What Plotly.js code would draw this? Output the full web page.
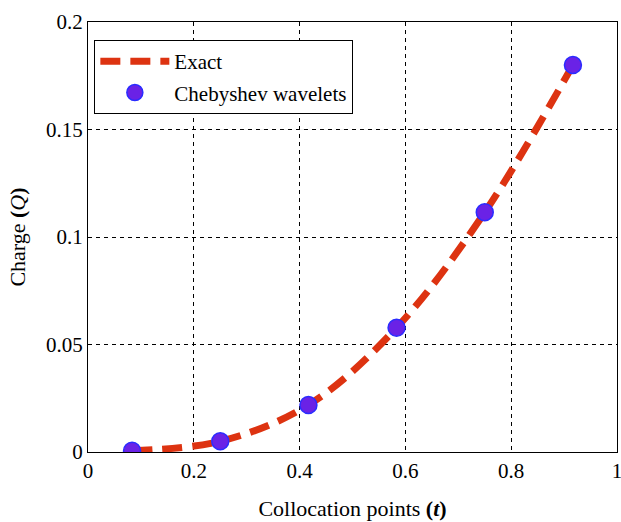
<!DOCTYPE html>
<html>
<head>
<meta charset="utf-8">
<script src="https://cdn.plot.ly/plotly-3.0.1.min.js"></script>
<style>html,body{margin:0;padding:0;background:#fff;}#chart{width:621px;height:522px;}</style>
</head>
<body>
<div id="chart"></div>
<script>
// Collocation points (t) and charge values Q
const tPoints = [0.0833, 0.25, 0.4167, 0.5833, 0.75, 0.9167];
const exactQ = [0.0006, 0.0050, 0.0219, 0.0578, 0.1115, 0.1800];
const waveletQ = [0.0006, 0.0050, 0.0219, 0.0578, 0.1115, 0.1800];
const xTicks = [0, 0.2, 0.4, 0.6, 0.8, 1];
const yTicks = [0, 0.05, 0.1, 0.15, 0.2];
const xTickText = ["0", "0.2", "0.4", "0.6", "0.8", "1"];
const yTickText = ["0", "0.05", "0.1", "0.15", "0.2"];

const font = "Liberation Serif";

const traces = [
  {
    x: tPoints, y: exactQ, name: "Exact", mode: "lines", type: "scatter",
    legendgroup: "a",
    line: {color: "#dd3311", width: 7, dash: "20px,10px", shape: "spline"}
  },
  {
    x: tPoints, y: waveletQ, name: "Chebyshev wavelets", mode: "markers", type: "scatter",
    legendgroup: "b",
    marker: {color: "#6a22e6", size: 17, line: {color: "#2a2cff", width: 1.5}}
  }
];

const axisCommon = {
  showline: true, linecolor: "#000", linewidth: 1, mirror: true,
  showgrid: true, gridcolor: "#000", griddash: "4px,4px", gridwidth: 1,
  zeroline: false, ticks: "", ticklabeloverflow: "allow",
  tickfont: {family: font, size: 21, color: "#000"}
};

const layout = {
  width: 621, height: 522,
  margin: {l: 88, r: 4, t: 22, b: 70},
  paper_bgcolor: "#fff", plot_bgcolor: "#fff",
  font: {family: font, size: 21, color: "#000"},
  xaxis: Object.assign({}, axisCommon, {
    range: [0, 1], tickvals: xTicks, ticktext: xTickText,
    title: {text: "Collocation points <b>(</b><b><i>t</i></b><b>)</b>", font: {family: font, size: 22, color: "#000"}, standoff: 18}
  }),
  yaxis: Object.assign({}, axisCommon, {
    range: [0, 0.2], tickvals: yTicks, ticktext: yTickText,
    title: {text: "Charge <b>(</b><i>Q</i><b>)</b>", font: {family: font, size: 22, color: "#000"}, standoff: 14}
  }),
  showlegend: true,
  legend: {
    x: 0.012, y: 0.958, xanchor: "left", yanchor: "top",
    bgcolor: "#fff", bordercolor: "#000", borderwidth: 1,
    font: {family: font, size: 21, color: "#000"},
    itemwidth: 69, traceorder: "grouped", tracegroupgap: 1
  }
};

Plotly.newPlot("chart", traces, layout, {displayModeBar: false});
</script>
</body>
</html>
